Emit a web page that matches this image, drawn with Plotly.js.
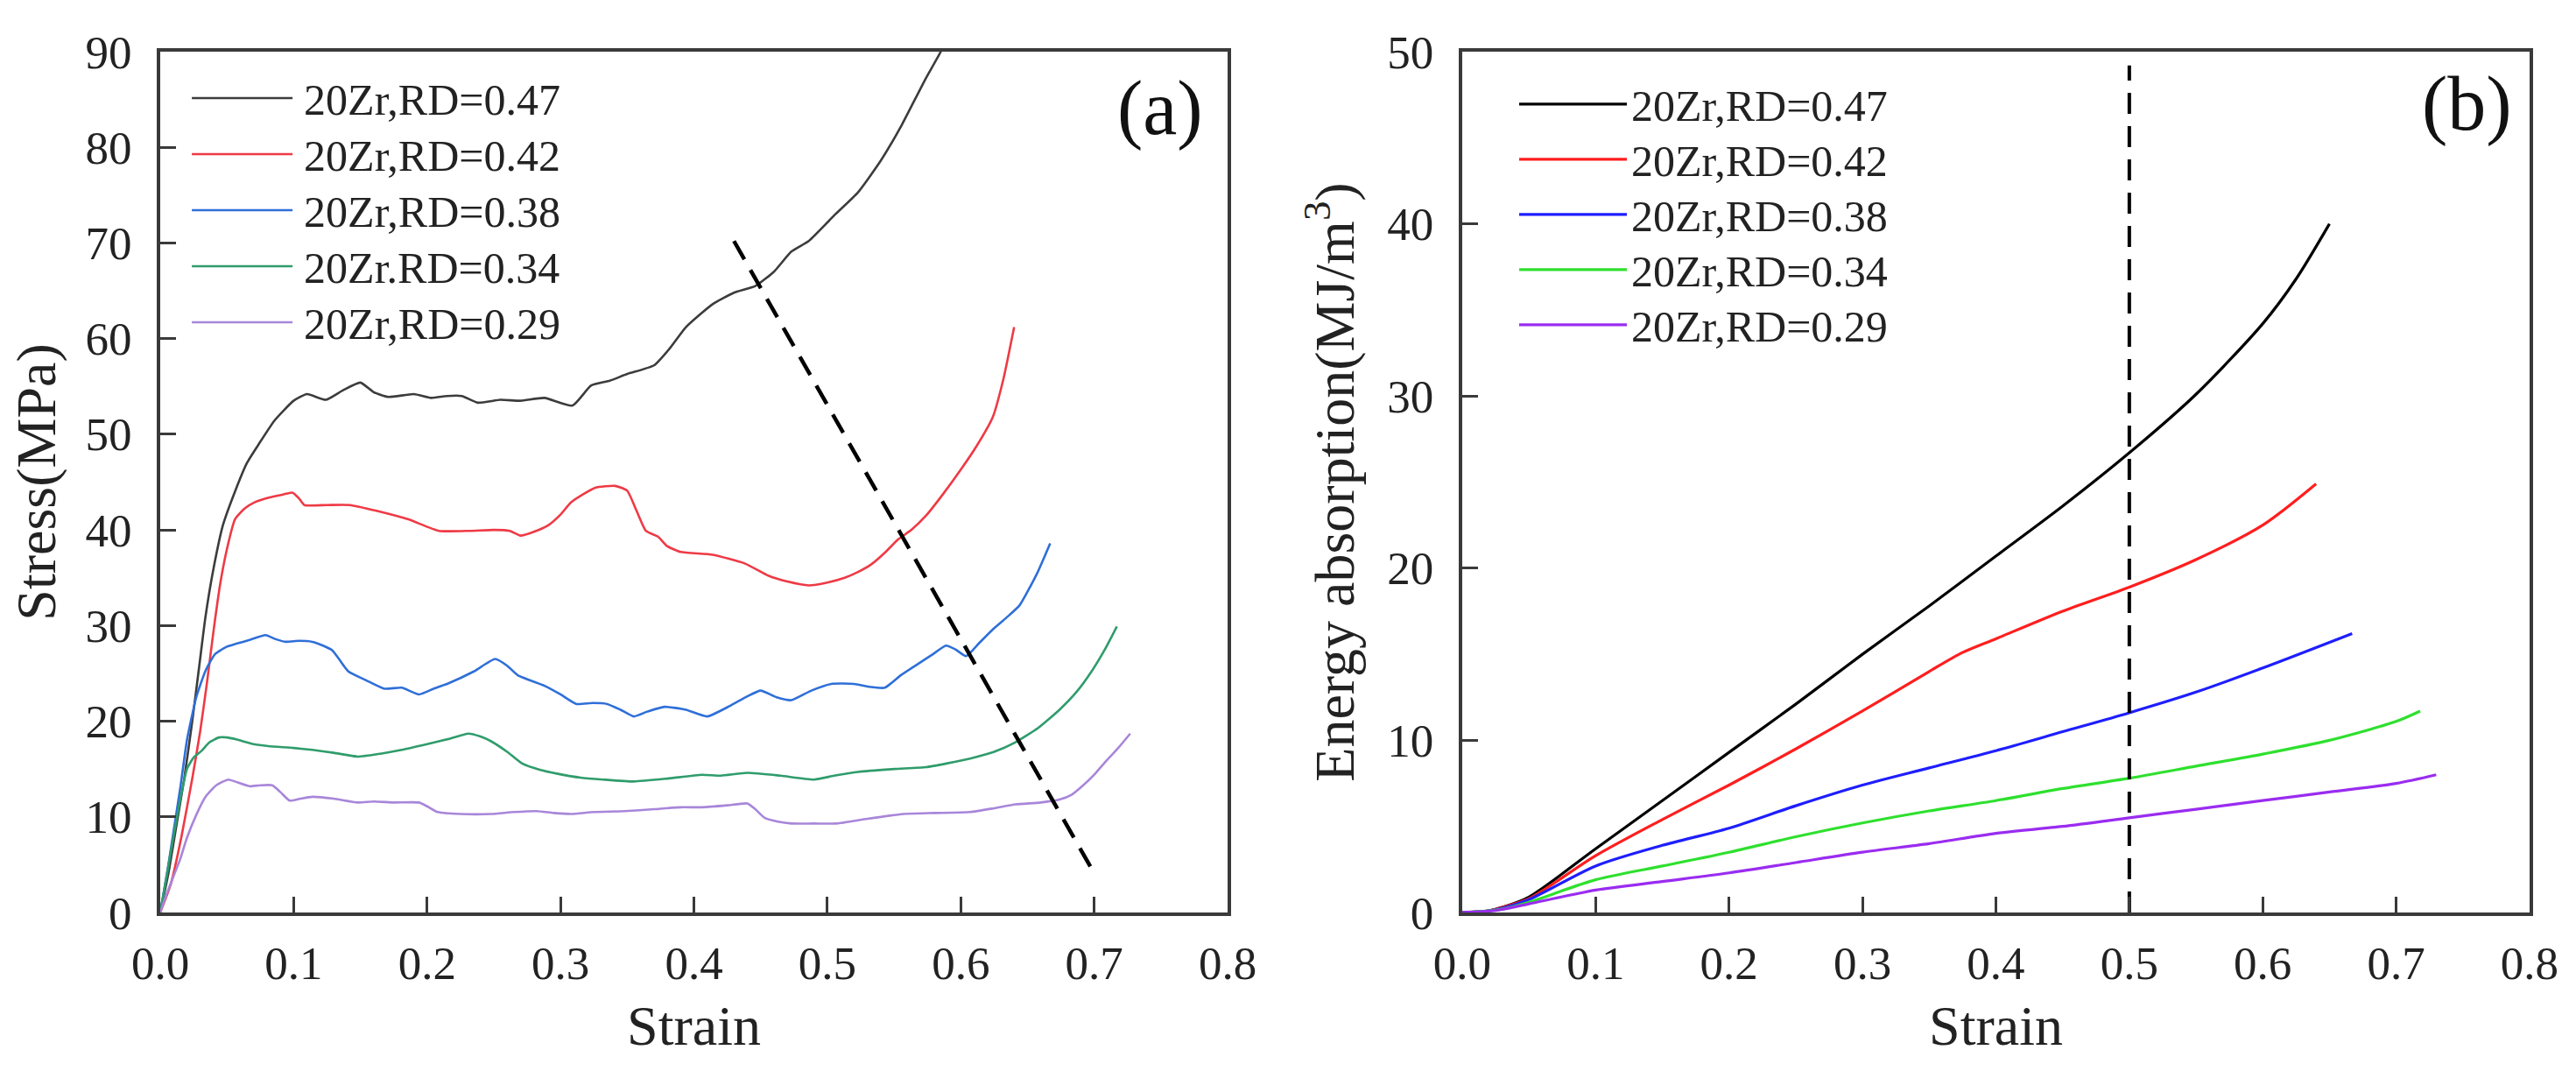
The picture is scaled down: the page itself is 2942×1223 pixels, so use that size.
<!DOCTYPE html>
<html>
<head>
<meta charset="utf-8">
<script src="https://cdn.plot.ly/plotly-3.0.1.min.js"></script>
<style>html,body{margin:0;padding:0;background:#fff;}#chart{width:2942px;height:1223px;}</style>
</head>
<body>
<div id="chart"></div>
<script>
// ---------- Panel (a): stress-strain ----------
const namesA = ["20Zr,RD=0.47", "20Zr,RD=0.42", "20Zr,RD=0.38", "20Zr.RD=0.34", "20Zr,RD=0.29"];
const namesB = ["20Zr,RD=0.47", "20Zr,RD=0.42", "20Zr,RD=0.38", "20Zr,RD=0.34", "20Zr,RD=0.29"];

const strainA47 = [0,0.006,0.012,0.018,0.024,0.029,0.034,0.040,0.047,0.056,0.065,0.074,0.086,0.100,0.110,0.124,0.137,0.150,0.160,0.171,0.190,0.203,0.215,0.226,0.238,0.255,0.270,0.288,0.309,0.323,0.337,0.350,0.370,0.382,0.394,0.414,0.430,0.446,0.460,0.473,0.486,0.506,0.523,0.540,0.556,0.573,0.585,0.595];
const stressA47 = [0,4,9,14,20,25.5,31,36,40.5,44,47,49,51.5,53.5,54.2,53.6,54.6,55.4,54.4,53.9,54.2,53.8,54.0,54.0,53.3,53.6,53.5,53.8,53.0,55.1,55.6,56.3,57.2,59.0,61.2,63.6,64.8,65.5,67.0,69.1,70.2,73.0,75.3,78.6,82.4,87.0,90.0,93.0];

const strainA42 = [0,0.008,0.016,0.024,0.030,0.035,0.040,0.045,0.050,0.056,0.063,0.071,0.082,0.092,0.099,0.104,0.108,0.125,0.142,0.162,0.186,0.209,0.232,0.250,0.262,0.270,0.280,0.291,0.300,0.308,0.326,0.341,0.350,0.357,0.364,0.373,0.380,0.390,0.414,0.438,0.456,0.470,0.486,0.500,0.513,0.523,0.533,0.543,0.553,0.563,0.574,0.587,0.600,0.612,0.624,0.632,0.640];
const stressA42 = [0,3,8,14,19,24,29.5,34.4,38,41.1,42.2,42.9,43.4,43.7,43.9,43.3,42.6,42.6,42.6,42.0,41.1,39.9,39.9,40.0,39.9,39.4,39.8,40.5,41.6,42.9,44.4,44.6,44.1,42.0,39.9,39.3,38.3,37.7,37.4,36.5,35.2,34.6,34.2,34.5,35.0,35.6,36.4,37.6,39.0,40.0,41.5,43.8,46.3,48.8,51.8,55.8,61.2];

const strainA38 = [0,0.005,0.010,0.015,0.020,0.027,0.034,0.041,0.050,0.057,0.067,0.079,0.086,0.094,0.104,0.114,0.122,0.129,0.135,0.141,0.154,0.168,0.181,0.194,0.205,0.215,0.235,0.251,0.260,0.268,0.288,0.300,0.312,0.324,0.335,0.345,0.355,0.365,0.378,0.394,0.410,0.427,0.440,0.450,0.462,0.473,0.488,0.503,0.520,0.531,0.543,0.555,0.567,0.578,0.589,0.596,0.604,0.614,0.624,0.634,0.644,0.657,0.667];
const stressA38 = [0,4,8.5,13,18,22.5,25.3,27,27.8,28.1,28.5,29.0,28.6,28.3,28.4,28.3,27.9,27.4,26.3,25.2,24.3,23.4,23.5,22.8,23.4,23.9,25.2,26.5,25.8,24.8,23.7,22.8,21.8,21.9,21.8,21.2,20.5,21.0,21.5,21.2,20.5,21.6,22.6,23.2,22.5,22.2,23.2,23.9,23.9,23.6,23.5,24.8,25.9,26.9,27.9,27.5,26.8,28.2,29.6,30.8,32.1,35.4,38.6];

const strainA34 = [0,0.005,0.010,0.015,0.020,0.025,0.031,0.037,0.044,0.050,0.057,0.070,0.081,0.100,0.114,0.130,0.148,0.165,0.181,0.200,0.215,0.231,0.240,0.248,0.260,0.271,0.285,0.298,0.315,0.332,0.355,0.380,0.406,0.420,0.440,0.465,0.490,0.505,0.523,0.550,0.574,0.590,0.607,0.625,0.641,0.658,0.674,0.687,0.698,0.708,0.717];
const stressA34 = [0,4,8,11.8,15,16.2,16.9,17.8,18.3,18.3,18.1,17.6,17.4,17.2,17.0,16.7,16.3,16.6,17.0,17.6,18.1,18.7,18.4,17.9,16.8,15.6,14.9,14.5,14.1,13.9,13.7,14.0,14.4,14.3,14.6,14.3,13.9,14.3,14.7,15.0,15.2,15.6,16.1,16.8,17.8,19.3,21.2,23.1,25.2,27.5,29.9];

const strainA29 = [0,0.005,0.010,0.015,0.020,0.027,0.034,0.042,0.051,0.058,0.067,0.075,0.084,0.090,0.097,0.105,0.114,0.130,0.148,0.160,0.175,0.194,0.200,0.208,0.225,0.248,0.265,0.282,0.295,0.308,0.325,0.348,0.370,0.390,0.406,0.425,0.440,0.446,0.453,0.463,0.473,0.490,0.507,0.530,0.557,0.580,0.607,0.625,0.641,0.660,0.674,0.683,0.691,0.700,0.708,0.718,0.727];
const stressA29 = [0,2,3.8,5.6,7.8,10.2,12.1,13.3,13.9,13.6,13.2,13.3,13.3,12.6,11.7,11.9,12.1,11.9,11.5,11.6,11.5,11.5,11.1,10.5,10.3,10.3,10.5,10.6,10.4,10.3,10.5,10.6,10.8,11.0,11.0,11.2,11.4,10.8,9.9,9.5,9.3,9.3,9.3,9.8,10.3,10.4,10.5,10.9,11.3,11.5,11.8,12.3,13.2,14.4,15.7,17.2,18.7];

const guideStrainA = [0.43, 0.70];
const guideStressA = [70.2, 4.1];

// ---------- Panel (b): energy absorption ----------
const strainB47 = [0,0.02,0.03,0.05,0.10,0.15,0.20,0.25,0.30,0.35,0.40,0.45,0.50,0.55,0.60,0.625,0.65];
const energyB47 = [0,0.1,0.3,0.9,3.7,6.5,9.3,12.1,15.0,17.8,20.7,23.6,26.7,30.1,34.2,36.8,40.0];
const strainB42 = [0,0.02,0.03,0.05,0.10,0.15,0.20,0.25,0.30,0.35,0.375,0.40,0.45,0.50,0.55,0.60,0.64];
const energyB42 = [0,0.1,0.3,0.8,3.3,5.4,7.4,9.5,11.7,14.0,15.1,15.9,17.5,18.9,20.5,22.5,24.9];
const strainB38 = [0,0.02,0.03,0.05,0.10,0.15,0.20,0.25,0.30,0.35,0.40,0.45,0.50,0.55,0.60,0.667];
const energyB38 = [0,0.1,0.25,0.75,2.7,3.9,4.9,6.2,7.4,8.4,9.4,10.5,11.6,12.8,14.2,16.2];
const strainB34 = [0,0.02,0.03,0.05,0.10,0.15,0.20,0.25,0.30,0.35,0.40,0.45,0.50,0.55,0.60,0.65,0.70,0.718];
const energyB34 = [0,0.1,0.2,0.6,1.9,2.7,3.5,4.4,5.2,5.9,6.5,7.2,7.8,8.5,9.2,10.0,11.1,11.7];
const strainB29 = [0,0.02,0.03,0.05,0.10,0.15,0.20,0.25,0.30,0.35,0.40,0.45,0.50,0.55,0.60,0.65,0.70,0.73];
const energyB29 = [0,0.08,0.18,0.5,1.3,1.8,2.3,2.9,3.5,4.0,4.6,5.0,5.5,6.0,6.5,7.0,7.5,8.0];

const guideStrainB = [0.5, 0.5];
const guideEnergyB = [0, 49.2];

const xTickVals = [0,0.1,0.2,0.3,0.4,0.5,0.6,0.7,0.8];
const xTickText = ["0.0","0.1","0.2","0.3","0.4","0.5","0.6","0.7","0.8"];
const yTickValsA = [0,10,20,30,40,50,60,70,80,90];
const yTickValsB = [0,10,20,30,40,50];

const colorsA = ["#3c3c3c", "#ee3a45", "#2f6fd8", "#2f9c6c", "#a886da"];
const colorsB = ["#000000", "#ff1e1e", "#1e1eff", "#2ee02e", "#9a2cf0"];

const seriesA = [[strainA47, stressA47],[strainA42, stressA42],[strainA38, stressA38],[strainA34, stressA34],[strainA29, stressA29]];
const seriesB = [[strainB47, energyB47],[strainB42, energyB42],[strainB38, energyB38],[strainB34, energyB34],[strainB29, energyB29]];

const FONT = "Liberation Serif, Times New Roman, serif";
const traces = [];
seriesA.forEach((s, i) => traces.push({
  x: s[0], y: s[1], type: "scatter", mode: "lines", name: namesA[i],
  line: {color: colorsA[i], width: 2.6, shape: "spline", smoothing: 0.5},
  xaxis: "x", yaxis: "y", legend: "legend"
}));
traces.push({x: guideStrainA, y: guideStressA, type: "scatter", mode: "lines", showlegend: false,
  line: {color: "#000", width: 4.5, dash: "24px,14px"}, xaxis: "x", yaxis: "y"});
seriesB.forEach((s, i) => traces.push({
  x: s[0], y: s[1], type: "scatter", mode: "lines", name: namesB[i],
  line: {color: colorsB[i], width: 3.2, shape: "spline", smoothing: 0.8},
  xaxis: "x2", yaxis: "y2", legend: "legend2"
}));
traces.push({x: guideStrainB, y: guideEnergyB, type: "scatter", mode: "lines", showlegend: false,
  line: {color: "#000", width: 4, dash: "24px,14px"}, xaxis: "x2", yaxis: "y2"});

const axisCommon = {
  showline: true, mirror: true, linecolor: "#3a3a3a", linewidth: 4,
  ticks: "inside", ticklen: 18, tickwidth: 3, tickcolor: "#3a3a3a",
  showgrid: false, zeroline: false,
  tickfont: {family: FONT, size: 53, color: "#222"}
};
const xAxisBase = Object.assign({}, axisCommon, {
  range: [0, 0.8], tickvals: xTickVals, ticktext: xTickText, ticklabelstandoff: 8,
  title: {text: "Strain", font: {family: FONT, size: 64, color: "#222"}, standoff: 22}
});

const layout = {
  width: 2942, height: 1223,
  paper_bgcolor: "#fff", plot_bgcolor: "#fff",
  margin: {l: 183, r: 53, t: 59, b: 181},
  showlegend: true,
  xaxis: Object.assign({}, xAxisBase, {domain: [0, 0.4505], anchor: "y"}),
  yaxis: Object.assign({}, axisCommon, {domain: [0, 1], anchor: "x", range: [0, 90], tickvals: yTickValsA,
    ticklabelstandoff: 18,
    title: {text: "Stress(MPa)", font: {family: FONT, size: 64, color: "#222"}, standoff: 14}}),
  xaxis2: Object.assign({}, xAxisBase, {domain: [0.5495, 1], anchor: "y2"}),
  yaxis2: Object.assign({}, axisCommon, {domain: [0, 1], anchor: "x2", range: [0, 50], tickvals: yTickValsB,
    ticklabelstandoff: 18,
    title: {text: "Energy absorption(MJ/m<sup>3</sup>)", font: {family: FONT, size: 64, color: "#222"}, standoff: 18}}),
  legend: {x: 0.0115, y: 0.9858, xanchor: "left", yanchor: "top", xref: "paper", yref: "paper",
    bgcolor: "rgba(0,0,0,0)", borderwidth: 0, itemwidth: 123, tracegroupgap: 0,
    font: {family: FONT, size: 50, color: "#222"}},
  legend2: {x: 0.5717, y: 0.9787, xanchor: "left", yanchor: "top", xref: "paper", yref: "paper",
    bgcolor: "rgba(0,0,0,0)", borderwidth: 0, itemwidth: 123, tracegroupgap: 0,
    font: {family: FONT, size: 50, color: "#222"}},
  annotations: [
    {text: "(a)", xref: "paper", yref: "paper", x: 0.4220, y: 0.9339, xanchor: "center", yanchor: "middle",
      showarrow: false, font: {family: FONT, size: 88, color: "#111"}},
    {text: "(b)", xref: "paper", yref: "paper", x: 0.9734, y: 0.9390, xanchor: "center", yanchor: "middle",
      showarrow: false, font: {family: FONT, size: 88, color: "#111"}}
  ]
};

const legendSpacing = {legend: 64, legend2: 63};

function fixLegends() {
  ["legend", "legend2"].forEach(function (cls) {
    document.querySelectorAll(".infolayer ." + cls).forEach(function (leg) {
      var items = leg.querySelectorAll(".traces");
      var y0 = null;
      items.forEach(function (it, i) {
        var m = /translate\(\s*([-\d.e]+)\s*,\s*([-\d.e]+)\s*\)/.exec(it.getAttribute("transform") || "");
        if (m) {
          if (y0 === null) y0 = parseFloat(m[2]);
          it.setAttribute("transform", "translate(" + m[1] + "," + (y0 + i * legendSpacing[cls]) + ")");
        }
        var text = it.querySelector("text.legendtext");
        var path = it.querySelector(".legendlines path");
        if (text && path) {
          var tr = text.getBoundingClientRect();
          var ctm = path.parentNode.getScreenCTM();
          var sx = tr.left - 13 - 115;
          var lx = (sx - ctm.e) / ctm.a;
          path.setAttribute("d", "M" + lx.toFixed(1) + ",0h115");
        }
      });
    });
  });
}

Plotly.newPlot("chart", traces, layout, {displayModeBar: false, staticPlot: true}).then(fixLegends);
</script>
</body>
</html>
